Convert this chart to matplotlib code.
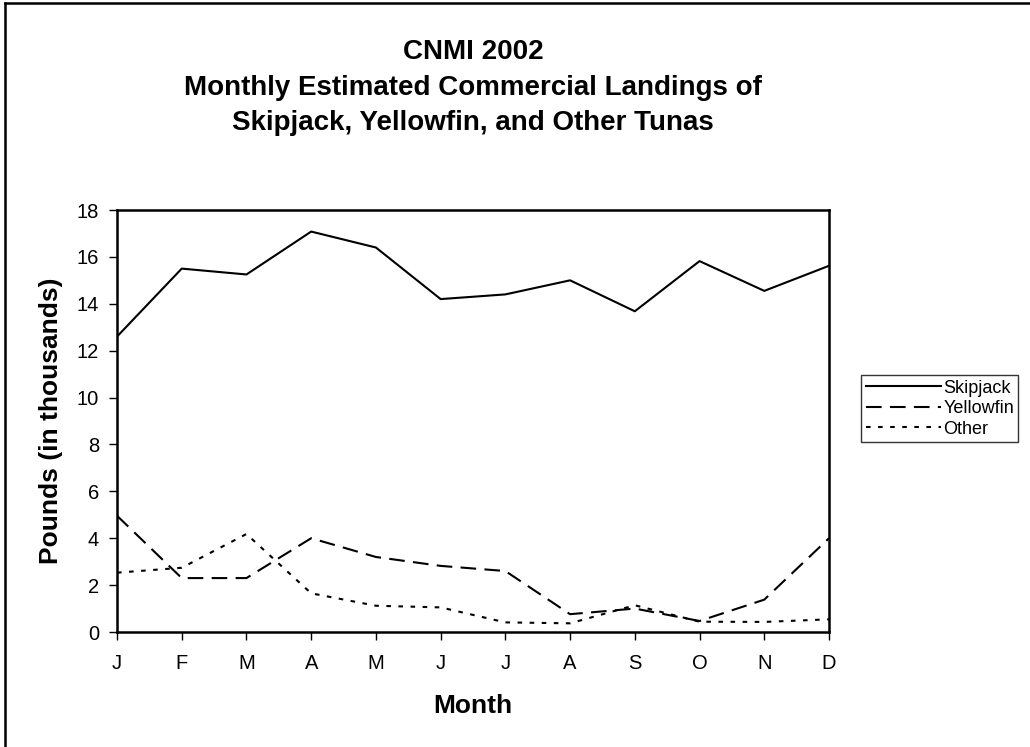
import matplotlib.pyplot as plt
from matplotlib.lines import Line2D

months = ['J', 'F', 'M', 'A', 'M', 'J', 'J', 'A', 'S', 'O', 'N', 'D']
skipjack = [12.6, 15.5, 15.25, 17.08, 16.4, 14.2, 14.4, 15.0, 13.68, 15.82, 14.55, 15.62]
yellowfin = [4.96, 2.3, 2.3, 4.0, 3.2, 2.82, 2.6, 0.76, 1.0, 0.47, 1.38, 4.0]
other = [2.53, 2.74, 4.18, 1.65, 1.12, 1.05, 0.41, 0.37, 1.14, 0.44, 0.43, 0.54]

plt.rcParams['font.family'] = ['Liberation Sans', 'DejaVu Sans']

fig = plt.figure(figsize=(10.3, 7.47), dpi=100)
# outer chart border, only left and top edges fall inside the picture
fig.add_artist(Line2D([5 / 1030, 5 / 1030], [0, 1 - 3 / 747], color='black',
                      lw=1.8, transform=fig.transFigure))
fig.add_artist(Line2D([5 / 1030, 1], [1 - 3 / 747, 1 - 3 / 747], color='black',
                      lw=1.8, transform=fig.transFigure))

ax = fig.add_axes([117 / 1030, 1 - 632 / 747, 712 / 1030, 422 / 747])
x = list(range(len(months)))
lw = 1.5
ax.plot(x, skipjack, color='black', lw=lw, label='Skipjack')
ax.plot(x, yellowfin, color='black', lw=lw, dashes=(7.5, 4), label='Yellowfin')
ax.plot(x, other, color='black', lw=lw, dashes=(2.2, 3.6), label='Other')

ax.set_xlim(0, 11)
ax.set_ylim(0, 18)
ax.set_xticks(x)
ax.set_xticklabels(months)
ax.set_yticks(range(0, 19, 2))
ax.tick_params(direction='out', length=6, width=1, labelsize=14.5)
ax.tick_params(axis='x', pad=10)
ax.tick_params(axis='y', pad=7)
for s in ax.spines.values():
    s.set_linewidth(1.8)

ax.set_xlabel('Month', fontsize=19, fontweight='bold', labelpad=15)
ax.set_ylabel('Pounds (in thousands)', fontsize=19, fontweight='bold', labelpad=10)

title_lines = ['CNMI 2002',
               'Monthly Estimated Commercial Landings of',
               'Skipjack, Yellowfin, and Other Tunas']
for line, ypix in zip(title_lines, [52, 88, 123]):
    fig.text(473 / 1030, 1 - ypix / 747, line, ha='center', va='center',
             fontsize=20, fontweight='bold')

leg = ax.legend(loc='upper left', bbox_to_anchor=(861 / 1030, 1 - 375 / 747),
                bbox_transform=fig.transFigure, fontsize=13, frameon=True,
                fancybox=False, edgecolor='black', handlelength=4.2,
                handletextpad=0.1, borderpad=0.25, labelspacing=0.2,
                borderaxespad=0)
leg.get_frame().set_linewidth(1)

fig.savefig('out.png', dpi=100)
